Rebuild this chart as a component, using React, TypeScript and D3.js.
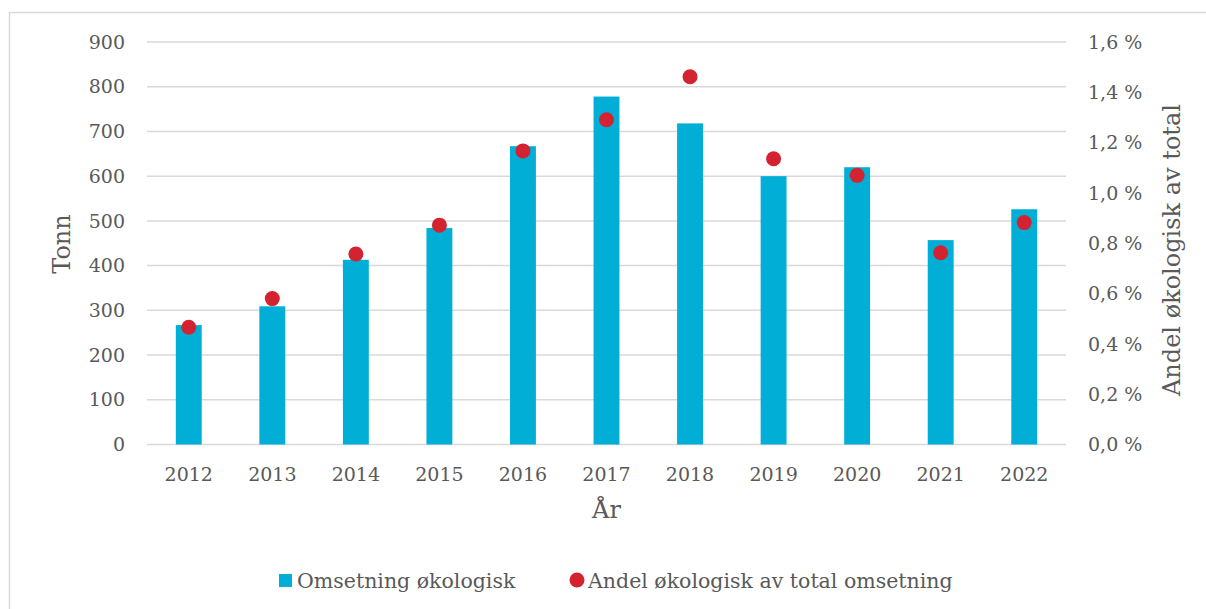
import React, { useEffect, useRef } from 'react'
import * as d3 from 'd3'

const years = ['2012', '2013', '2014', '2015', '2016', '2017', '2018', '2019', '2020', '2021', '2022']
const omsetning = [267, 309, 413, 484, 667, 778, 718, 600, 620, 457, 526]
const andel = [0.466, 0.58, 0.757, 0.872, 1.167, 1.291, 1.462, 1.136, 1.07, 0.762, 0.882]
const leftTicks = [0, 100, 200, 300, 400, 500, 600, 700, 800, 900]
const rightTicks = [0, 0.2, 0.4, 0.6, 0.8, 1.0, 1.2, 1.4, 1.6]

const barName = 'Omsetning økologisk'
const dotName = 'Andel økologisk av total omsetning'

const W = 1206
const H = 609
const FONT = "Georgia, 'DejaVu Serif', serif"
const TXT = '#595959'
const BLUE = '#00AED6'
const RED = '#D42330'

export default function App() {
  const ref = useRef<SVGSVGElement>(null)

  useEffect(() => {
    const svg = d3.select(ref.current)
    svg.selectAll('*').remove()

    const m = { left: 147, right: 1066, top: 42, bottom: 444.5 }

    const x = d3.scaleBand().domain(years).range([m.left, m.right]).padding(0)
    const yL = d3.scaleLinear().domain([0, 900]).range([m.bottom, m.top])
    const yR = d3.scaleLinear().domain([0, 1.6]).range([m.bottom, m.top])
    const barW = x.bandwidth() * 0.31

    // outer frame
    svg.append('rect').attr('x', 9.5).attr('y', 12.5).attr('width', 1300).attr('height', 700)
      .attr('fill', 'none').attr('stroke', '#d9d9d9').attr('stroke-width', 1.5)

    // gridlines
    svg.append('g').selectAll('line').data(leftTicks).join('line')
      .attr('x1', m.left).attr('x2', m.right)
      .attr('y1', d => yL(d)).attr('y2', d => yL(d))
      .attr('stroke', '#d9d9d9').attr('stroke-width', 1.5)

    // bars
    svg.append('g').selectAll('rect').data(years).join('rect')
      .attr('x', (d) => (x(d) as number) + x.bandwidth() / 2 - barW / 2)
      .attr('width', barW)
      .attr('y', (d, i) => yL(omsetning[i]))
      .attr('height', (d, i) => yL(0) - yL(omsetning[i]))
      .attr('fill', BLUE)

    // dots
    svg.append('g').selectAll('circle').data(years).join('circle')
      .attr('cx', d => (x(d) as number) + x.bandwidth() / 2)
      .attr('cy', (d, i) => yR(andel[i]))
      .attr('r', 7.5)
      .attr('fill', RED)

    const fmt = (v: number) => v.toFixed(1).replace('.', ',') + ' %'

    // left ticks
    svg.append('g').selectAll('text').data(leftTicks).join('text')
      .attr('x', 125).attr('y', d => yL(d)).attr('dy', '0.35em')
      .attr('text-anchor', 'end').attr('font-family', FONT).attr('font-size', 19).attr('fill', TXT)
      .text(d => d)

    // right ticks
    svg.append('g').selectAll('text').data(rightTicks).join('text')
      .attr('x', 1088).attr('y', d => yR(d)).attr('dy', '0.35em')
      .attr('text-anchor', 'start').attr('font-family', FONT).attr('font-size', 19).attr('fill', TXT)
      .text(d => fmt(d))

    // x labels
    svg.append('g').selectAll('text').data(years).join('text')
      .attr('x', d => (x(d) as number) + x.bandwidth() / 2).attr('y', 481)
      .attr('text-anchor', 'middle').attr('font-family', FONT).attr('font-size', 19).attr('fill', TXT)
      .text(d => d)

    // axis titles
    svg.append('text').attr('transform', 'translate(70,244) rotate(-90)')
      .attr('text-anchor', 'middle').attr('font-family', FONT).attr('font-size', 24).attr('fill', TXT)
      .text('Tonn')
    svg.append('text').attr('x', (m.left + m.right) / 2).attr('y', 518)
      .attr('text-anchor', 'middle').attr('font-family', FONT).attr('font-size', 24).attr('fill', TXT)
      .text('År')
    svg.append('text').attr('transform', 'translate(1180,250) rotate(-90)')
      .attr('text-anchor', 'middle').attr('font-family', FONT).attr('font-size', 24).attr('fill', TXT)
      .text('Andel økologisk av total')

    // legend
    const lg = svg.append('g')
    lg.append('rect').attr('x', 279).attr('y', 574).attr('width', 13).attr('height', 13).attr('fill', BLUE)
    lg.append('text').attr('x', 297).attr('y', 588).attr('font-family', FONT).attr('font-size', 20.5).attr('fill', TXT)
      .text(barName)
    lg.append('circle').attr('cx', 577).attr('cy', 580).attr('r', 7.5).attr('fill', RED)
    lg.append('text').attr('x', 588).attr('y', 588).attr('font-family', FONT).attr('font-size', 20.5).attr('fill', TXT)
      .text(dotName)
  }, [])

  return (
    <svg ref={ref} width={W} height={H} style={{ position: 'absolute', left: 0, top: 0, background: '#fff' }} />
  )
}
